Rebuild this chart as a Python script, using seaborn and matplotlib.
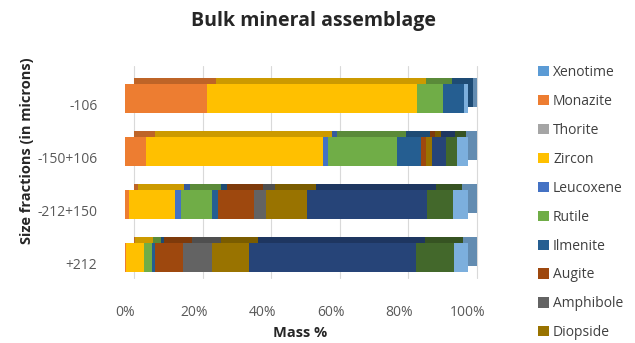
import numpy as np
import pandas as pd
import matplotlib.pyplot as plt
import matplotlib.colors as mcolors
from matplotlib.patches import Patch
from matplotlib.transforms import ScaledTranslation
import seaborn as sns

# data (mass %, per size fraction)
fractions = ["-106", "-150+106", "-212+150", "+212"]
minerals = ["Xenotime", "Monazite", "Thorite", "Zircon", "Leucoxene", "Rutile",
            "Ilmenite", "Augite", "Amphibole", "Diopside", "Series11", "Series12", "Series13"]
xenotime = [0.0, 0.0, 0.0, 0.0]
monazite = [23.8, 6.1, 1.0, 0.3]
thorite = [0.0, 0.0, 0.0, 0.0]
zircon = [61.2, 51.7, 13.6, 5.3]
leucoxene = [0.0, 1.5, 1.6, 0.0]
rutile = [7.8, 20.1, 9.1, 2.2]
ilmenite = [6.1, 6.9, 1.9, 0.9]
augite = [0.0, 1.5, 10.4, 8.1]
amphibole = [0.0, 0.0, 3.4, 8.5]
diopside = [0.0, 1.6, 12.0, 10.9]
series11 = [0.0, 4.2, 34.9, 48.6]
series12 = [0.0, 3.1, 7.6, 11.2]
series13 = [1.1, 3.3, 4.5, 4.0]
xticks = [0, 20, 40, 60, 80, 100]

colors = ["#5B9BD5", "#ED7D31", "#A5A5A5", "#FFC000", "#4472C4", "#70AD47",
          "#255E91", "#9E480E", "#636363", "#997300", "#264478", "#43682B", "#7CAFDD"]

df = pd.DataFrame(np.array([xenotime, monazite, thorite, zircon, leucoxene, rutile,
                            ilmenite, augite, amphibole, diopside, series11, series12,
                            series13]).T, columns=minerals, index=fractions)
cum = df.cumsum(axis=1)

sns.set_theme(style="white")
plt.rcParams['font.family'] = ['Open Sans', 'DejaVu Sans']

fig = plt.figure(figsize=(6.35, 3.43), dpi=100)
ax = fig.add_axes([0.197, 0.171, 0.540, 0.618])

# depth layer (3d look), shifted up-right
offset = ScaledTranslation(0.09, 0.065, fig.dpi_scale_trans)
for k in range(len(minerals) - 1, -1, -1):
    dark = tuple(np.array(mcolors.to_rgb(colors[k])) * 0.8)
    sns.barplot(x=cum[minerals[k]].values, y=fractions, orient="h", color=dark,
                saturation=1, width=0.55, ax=ax)
for p in ax.patches:
    p.set_transform(ax.transData + offset)
    p.set_clip_on(False)
    p.set_edgecolor("none")
n_back = len(ax.patches)

# back wall gridlines
for t in xticks:
    ln = ax.axvline(t, color="#D9D9D9", lw=0.8, zorder=0)
    ln.set_transform(ax.get_xaxis_transform() + offset)
    ln.set_clip_on(False)

# front faces
for k in range(len(minerals) - 1, -1, -1):
    sns.barplot(x=cum[minerals[k]].values, y=fractions, orient="h", color=colors[k],
                saturation=1, width=0.55, ax=ax)
for p in ax.patches[n_back:]:
    p.set_edgecolor("none")

ax.set_xlim(0, 100)
ax.set_xticks(xticks)
ax.set_xticklabels([f"{t}%" for t in xticks])
ax.tick_params(axis="both", length=0, labelsize=10, colors="#595959")
ax.tick_params(axis="y", pad=20)
ax.tick_params(axis="x", pad=15)
for lbl in ax.get_yticklabels():
    lbl.set_va("top")
for s in ax.spines.values():
    s.set_visible(False)
ax.set_xlabel("")
ax.set_ylabel("")

fig.text(0.493, 0.94, "Bulk mineral assemblage", ha="center", va="center",
         fontsize=14, fontweight="bold", color="#262626")
fig.text(0.472, 0.03, "Mass %", ha="center", va="center",
         fontsize=10.5, fontweight="bold", color="#262626")
fig.text(0.043, 0.56, "Size fractions (in microns)", ha="center", va="center",
         rotation=90, fontsize=10.5, fontweight="bold", color="#262626")

handles = [Patch(facecolor=colors[i], edgecolor="none") for i in range(10)]
fig.legend(handles, minerals[:10], loc="upper left", bbox_to_anchor=(0.848, 0.81),
           frameon=False, fontsize=10, handlelength=0.75, handleheight=0.75,
           handletextpad=0.3, labelspacing=1.0, borderpad=0, borderaxespad=0,
           labelcolor="#404040")

fig.savefig("out.png", dpi=100)
